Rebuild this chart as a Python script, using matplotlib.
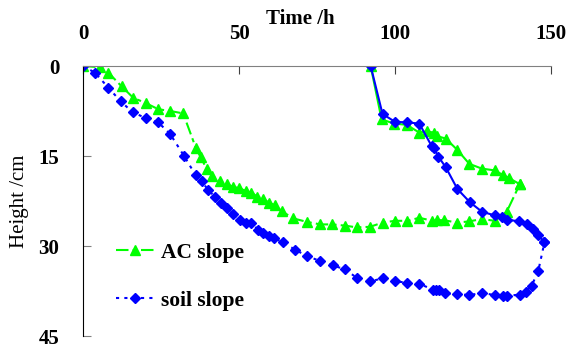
import matplotlib
matplotlib.use("Agg")
import matplotlib.pyplot as plt

# AC slope, first branch (t in h, height in cm)
ac_t = [0, 5.5, 8.1, 12.4, 16.1, 20.2, 24.1, 27.9, 32.1, 36.2, 37.7, 39.6, 41.5,
        43.8, 46, 48, 50.1, 52.2, 54, 55.9, 57.6, 59.7, 61.5, 63.7, 67.4, 71.9,
        76.1, 79.8, 83.9, 87.8, 92, 96, 100, 104, 107.8, 112, 113.4, 115.7,
        119.8, 123.8, 127.8, 132, 135.8, 140]
ac_h = [0, 0.2, 1.1, 3.4, 5.3, 6.2, 7.2, 7.5, 7.9, 13.7, 15.2, 17.1, 18.3,
        19.2, 19.7, 20.1, 20.4, 20.8, 21.1, 21.8, 22.1, 22.8, 23.2, 24.2, 25.4, 26.0,
        26.4, 26.4, 26.6, 26.9, 26.8, 26.1, 25.8, 25.8, 25.3, 25.8, 25.7, 25.7,
        26.1, 25.9, 25.5, 25.8, 24.3, 19.7]

# AC slope, second branch
ac2_t = [92.2, 95.7, 99.7, 103.7, 107.8, 110.1, 112.5, 113.6, 116.3, 120,
         123.8, 127.8, 132, 134.7, 136.6, 140]
ac2_h = [0, 8.9, 9.6, 9.8, 11.1, 10.9, 11.1, 11.7, 12.1, 14,
         16.3, 17.1, 17.4, 18.2, 18.7, 19.7]

# soil slope, first branch
soil_t = [0, 3.8, 8.1, 12.1, 15.9, 20.2, 24.1, 27.9, 32.4, 36.1, 38, 40.2, 42.3,
          44.2, 46, 48, 50.3, 52.2, 54, 56.2, 57.8, 59.7, 61.2, 64.2, 67.9, 71.9,
          76, 80, 83.9, 87.8, 92, 96, 100, 104, 107.8, 112.3, 113.3, 114.2, 116,
          120, 123.8, 127.9, 132, 134.7, 136, 140, 142, 143.8, 145.9, 147.9]
soil_h = [0, 1.1, 3.6, 5.9, 7.7, 8.7, 9.4, 11.3, 15.0, 18.2, 19.2, 20.7, 21.8,
          22.8, 23.6, 24.6, 25.7, 26.1, 26.2, 27.3, 27.9, 28.3, 28.7, 29.4, 30.6, 31.7,
          32.5, 33.2, 33.9, 35.3, 35.9, 35.4, 35.9, 36.1, 36.3, 37.3, 37.3, 37.4, 37.9,
          38, 38.2, 37.8, 38.2, 38.3, 38.3, 38.1, 37.6, 36.6, 34.2, 29.4]

# soil slope, second branch
soil2_t = [92.2, 96, 100, 104, 107.8, 111.7, 112.5, 113.9, 116.3, 120, 124,
           127.9, 132, 134.4, 135.8, 139.9, 142.2, 144.1, 145.9, 147.9]
soil2_h = [0, 8, 9.3, 9.4, 9.6, 13.3, 13.7, 15.1, 16.9, 20.5, 22.7,
           24.3, 24.9, 25.2, 25.6, 25.9, 26.3, 27.1, 28.2, 29.4]

GREEN = "#00ff00"
BLUE = "#0000ff"

plt.rcParams["font.family"] = ["Liberation Serif", "DejaVu Serif"]

fig = plt.figure(figsize=(5.66, 3.47), dpi=100)
ax = fig.add_axes([83 / 566, 1 - 336 / 347, 468 / 566, 270 / 347])

ax.plot(ac_t, ac_h, color=GREEN, lw=1.5, dashes=(6, 2, 2, 2), marker="^", ms=7,
        label="AC slope")
ax.plot(ac2_t, ac2_h, color=GREEN, lw=1.5, marker="^", ms=7)
ax.plot(soil_t, soil_h, color=BLUE, lw=1.5, dashes=(1.5, 2.5), marker="D", ms=5.5,
        label="soil slope")
ax.plot(soil2_t, soil2_h, color=BLUE, lw=1.5, marker="D", ms=5.5)

ax.set_xlim(0, 150)
ax.set_ylim(45, 0)
ax.set_xticks([0, 50, 100, 150])
ax.set_yticks([0, 15, 30, 45])

ax.xaxis.set_ticks_position("top")
ax.xaxis.set_label_position("top")
for s in ["bottom", "right"]:
    ax.spines[s].set_visible(False)
ax.spines["top"].set_color("#808080")
ax.spines["left"].set_color("black")

ax.tick_params(axis="x", direction="in", length=6, color="#404040", pad=16,
               labelsize=15)
ax.tick_params(axis="y", direction="in", length=6, color="#808080", pad=17,
               labelsize=15)
for lab in ax.get_xticklabels() + ax.get_yticklabels():
    lab.set_fontweight("bold")

ax.set_xlabel("Time /h", fontsize=15, fontweight="bold")
ax.xaxis.set_label_coords((300 - 83) / 468, 1 + (66 - 19) / 270)
ax.xaxis.label.set_va("center")
ax.set_ylabel("Height /cm", fontsize=15)
ax.yaxis.set_label_coords(-(83 - 29) / 468, 0.5)

ax.legend(loc="upper left", bbox_to_anchor=(0.07, 0.345), frameon=False,
          prop={"size": 15.5, "weight": "bold"}, handlelength=1.8,
          handletextpad=0.3, labelspacing=1.3, borderpad=0, borderaxespad=0)

fig.savefig("out.png", dpi=100)
